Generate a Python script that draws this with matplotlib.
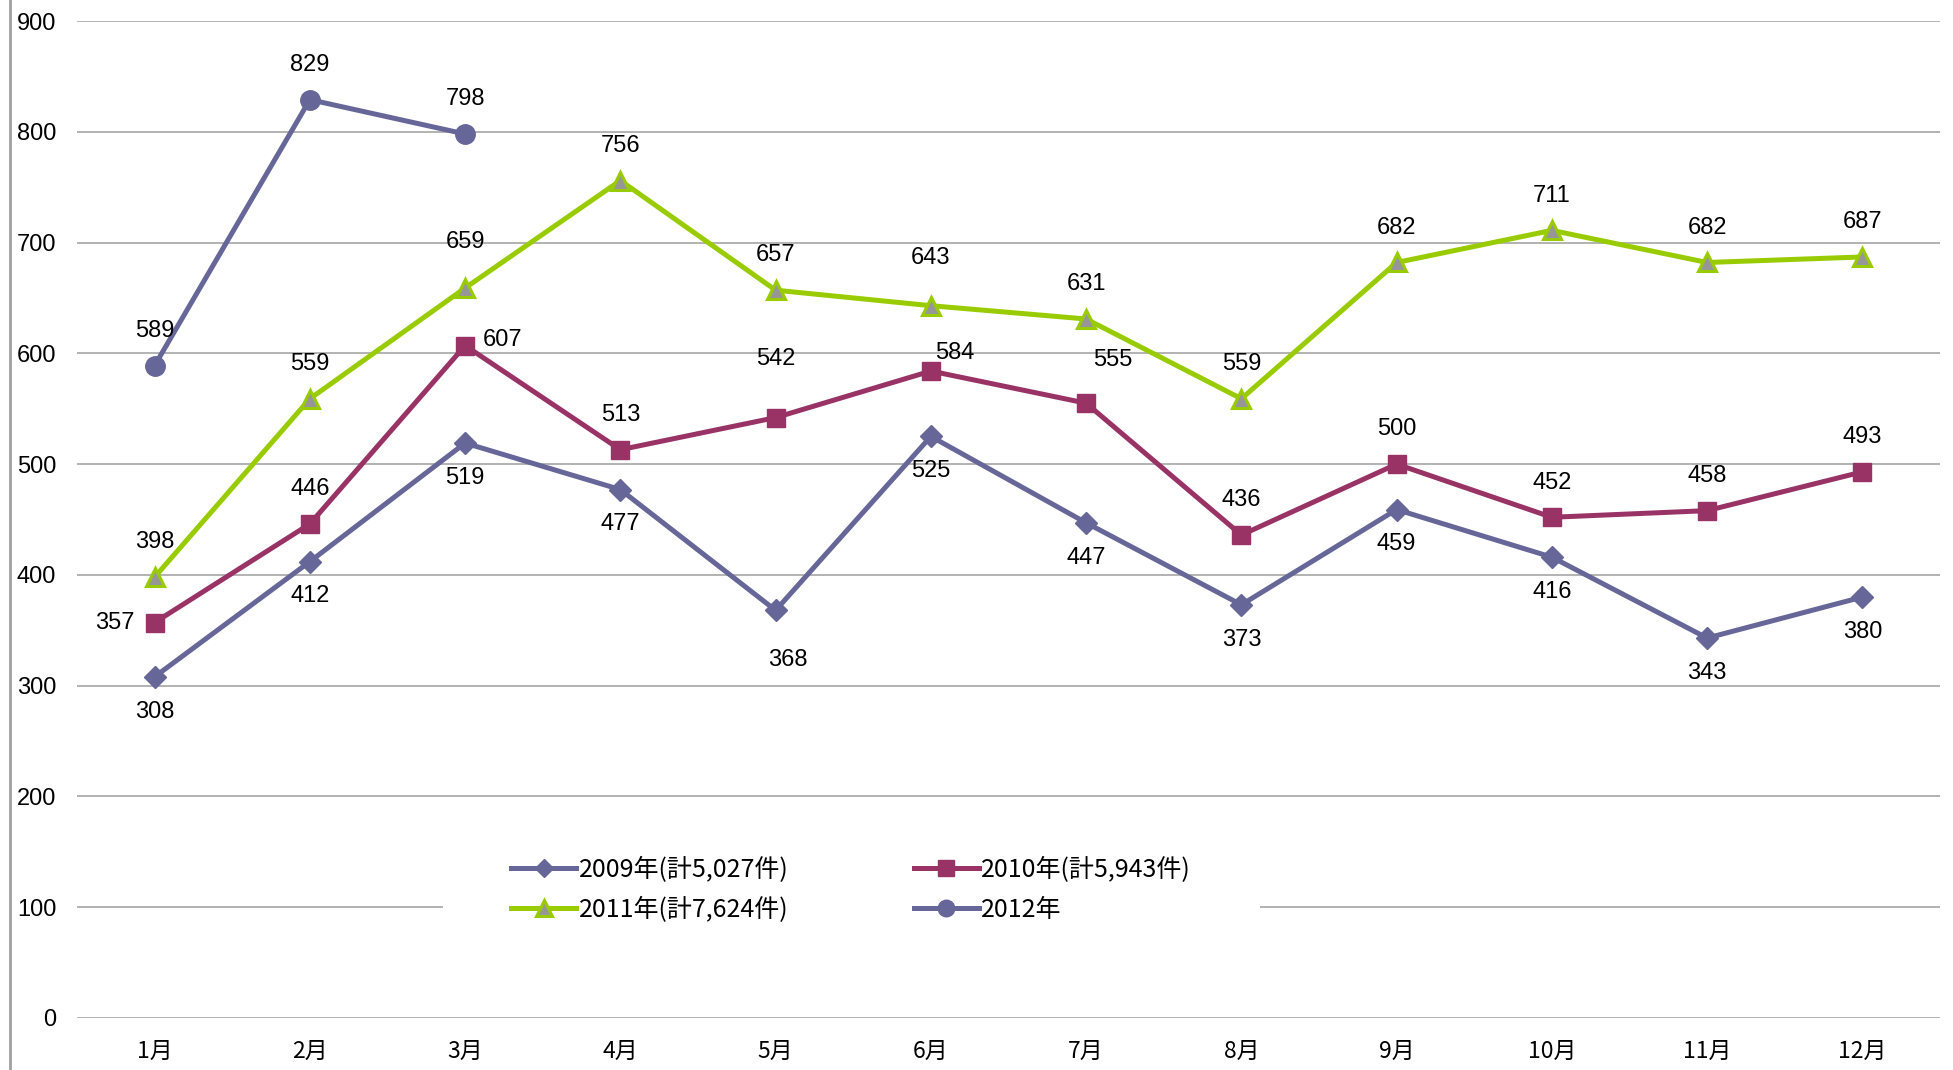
import matplotlib
matplotlib.use("Agg")
import matplotlib.pyplot as plt
from matplotlib.lines import Line2D
from matplotlib.patches import Rectangle

plt.rcParams['font.family'] = ['Liberation Sans', 'Noto Sans CJK JP', 'DejaVu Sans']

months = ["1月", "2月", "3月", "4月", "5月", "6月", "7月", "8月", "9月", "10月", "11月", "12月"]
y2009 = [308, 412, 519, 477, 368, 525, 447, 373, 459, 416, 343, 380]
y2010 = [357, 446, 607, 513, 542, 584, 555, 436, 500, 452, 458, 493]
y2011 = [398, 559, 659, 756, 657, 643, 631, 559, 682, 711, 682, 687]
y2012 = [589, 829, 798]
labels = ["2009年(計5,027件)", "2010年(計5,943件)", "2011年(計7,624件)", "2012年"]
yticks = [0, 100, 200, 300, 400, 500, 600, 700, 800, 900]

# label offsets in points (dx, dy) -- style only
off2009 = [(0, -25)] * 12
off2009 = list(off2009)
off2009[4] = (9, -36)
off2010 = [(0, 25)] * 12
off2010 = list(off2010)
off2010[0] = (-29, 0)
off2010[2] = (27, 4)
off2010[4] = (0, 42)
off2010[5] = (17, 13)
off2010[6] = (19, 31)
off2011 = [(0, 25)] * 12
off2011 = list(off2011)
off2011[2] = (0, 33)
off2011[5] = (0, 34)
off2012 = [(0, 25)] * 3

W, H = 1953, 1070
fig = plt.figure(figsize=(W / 100, H / 100), dpi=100)
ax = fig.add_axes([77 / W, 52 / H, (1940 - 77) / W, (1018 - 21) / H])

x = list(range(1, 13))
c09 = "#666699"
c10 = "#993366"
c11 = "#99CC00"
lw = 3.6

h09, = ax.plot(x, y2009, color=c09, lw=lw, marker="D", ms=11, mfc=c09, mec=c09, zorder=3)
h10, = ax.plot(x, y2010, color=c10, lw=lw, marker="s", ms=13, mfc=c10, mec=c10, zorder=3)
h11, = ax.plot(x, y2011, color=c11, lw=lw, marker="^", ms=13, mfc="#969696", mec=c11, mew=2.2, zorder=3)
h12, = ax.plot(x[:len(y2012)], y2012, color=c09, lw=lw, marker="o", ms=14, mfc=c09, mec=c09, zorder=3)

def annotate(xs, ys, offs):
    for xi, yi, (dx, dy) in zip(xs, ys, offs):
        ax.annotate(str(yi), (xi, yi), xytext=(dx, dy), textcoords="offset points",
                    ha="center", va="center", fontsize=17, family="Liberation Sans",
                    color="black", zorder=5)

annotate(x, y2009, off2009)
annotate(x, y2010, off2010)
annotate(x, y2011, off2011)
annotate(x[:len(y2012)], y2012, off2012)

ax.set_xlim(0.5, 12.5)
ax.set_ylim(0, 900)
ax.set_yticks(yticks)
ax.set_xticks(x)
ax.set_xticklabels(months, family=["Noto Sans CJK JP"], fontsize=16.5)
ax.tick_params(axis="y", length=0, pad=15, labelsize=17)
ax.tick_params(axis="x", length=0, pad=16)
ax.grid(axis="y", color="#A6A6A6", lw=1.2)
ax.set_axisbelow(True)
for s in ax.spines.values():
    s.set_visible(False)

fig.add_artist(Line2D([10 / W, 10 / W], [0, 1], transform=fig.transFigure,
                      color="#A0A0A0", lw=2))

# white legend area (covers the gridline behind the legend)
ax.add_patch(Rectangle((443 / W, (H - 950) / H), (1260 - 443) / W, 120 / H,
                       transform=fig.transFigure, facecolor="white", edgecolor="none",
                       zorder=1, clip_on=False))

leg = ax.legend([h09, h11, h10, h12], [labels[0], labels[2], labels[1], labels[3]],
                ncol=2, loc="center", bbox_to_anchor=(851 / W, 180 / H),
                bbox_transform=fig.transFigure, frameon=False,
                prop={"family": ["Noto Sans CJK JP"], "size": 18},
                handlelength=2.6, handletextpad=0.1, columnspacing=5.0,
                labelspacing=0.55, borderpad=0.5)
for lh in leg.get_lines():
    lh.set_markersize(lh.get_markersize() * 0.85)

fig.savefig("out.png", dpi=100)
